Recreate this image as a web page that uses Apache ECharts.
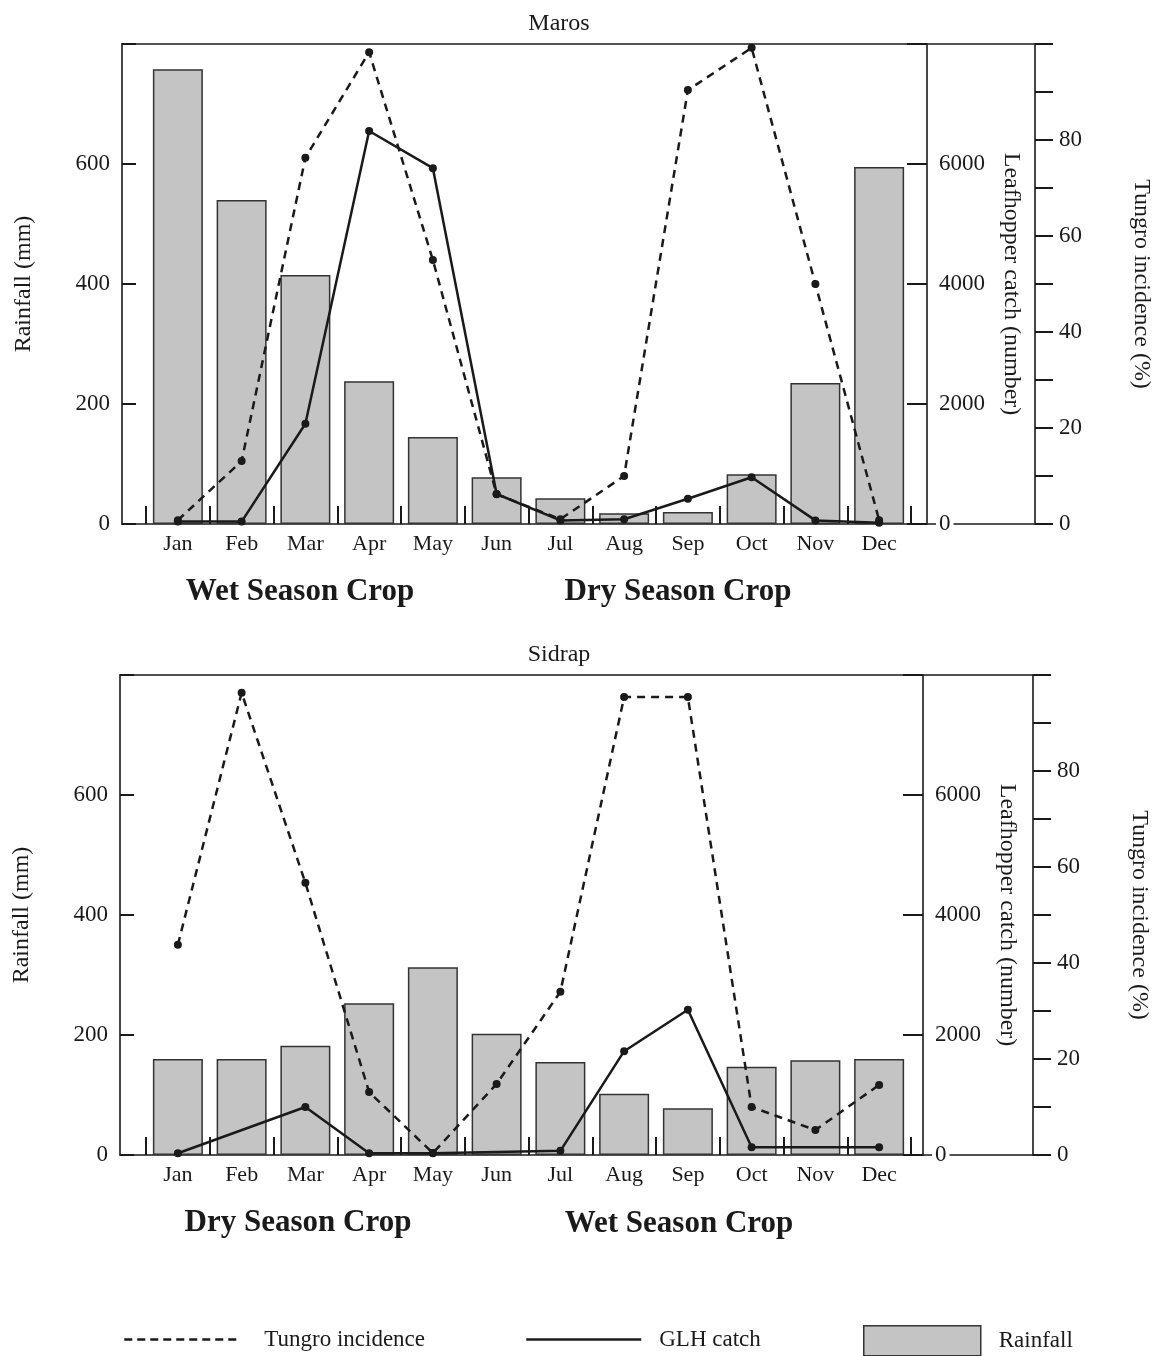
<!DOCTYPE html>
<html>
<head>
<meta charset="utf-8">
<script src="https://cdn.jsdelivr.net/npm/echarts@6/dist/echarts.min.js"></script>
<style>
  html, body { margin: 0; padding: 0; background: #fff; }
  #chart { width: 1167px; height: 1356px; }
</style>
</head>
<body>
<div id="chart"></div>
<script>
const months = ["Jan", "Feb", "Mar", "Apr", "May", "Jun", "Jul", "Aug", "Sep", "Oct", "Nov", "Dec"];

// Maros
const marosRain = [758, 540, 415, 238, 145, 78, 43, 18, 20, 83, 235, 595];
const marosGlh = [40, 40, 1670, 6550, 5930, 500, 60, 80, 420, 780, 60, 20];
const marosTungro = [0.8, 13.1, 76.3, 98.3, 55, 6.2, 1, 10, 90.4, 99.2, 50, 0.8];

// Sidrap
const sidrapRain = [160, 160, 182, 253, 313, 202, 155, 102, 78, 147, 158, 160];
const sidrapGlh = [30, null, 800, 30, 30, null, 70, 1730, 2420, 130, null, 130];
const sidrapTungro = [43.8, 96.3, 56.7, 13.1, 0.4, 14.8, 34, 95.4, 95.4, 10, 5.2, 14.6];

const rainTicks = [0, 200, 400, 600];
const leafTicks = [0, 2000, 4000, 6000];
const tungroTicks = [0, 20, 40, 60, 80];

const serif = '"Liberation Serif", "Times New Roman", serif';
const ink = "#1a1a1a";
const barGray = "#c4c4c4";

const chart = echarts.init(document.getElementById("chart"), null, { renderer: "canvas" });

// one panel = frame grid (axes, outline) + data grid (categories)
const panels = [
  { title: "Maros", frame: { left: 122, right: 1167 - 1035, top: 44, bottom: 1356 - 524 }, leafOffset: -108,
    rain: marosRain, glh: marosGlh, tungro: marosTungro,
    seasons: [["Wet Season Crop", 300, 592], ["Dry Season Crop", 678, 592]] },
  { title: "Sidrap", frame: { left: 120, right: 1167 - 1033, top: 675, bottom: 1356 - 1155 }, leafOffset: -110,
    rain: sidrapRain, glh: sidrapGlh, tungro: sidrapTungro,
    seasons: [["Dry Season Crop", 298, 1223], ["Wet Season Crop", 679, 1224]] },
];

const grid = [], xAxis = [], yAxis = [], series = [], title = [], graphic = [];

const tickLabel = { color: ink, fontFamily: serif, fontSize: 23 };
const axisName = { color: ink, fontFamily: serif, fontSize: 24 };
const frameLine = { show: true, onZero: false, lineStyle: { color: ink, width: 1.6 } };

panels.forEach((p, k) => {
  const fg = grid.length;
  grid.push(p.frame);
  const dg = grid.length;
  grid.push({ left: 146, right: 1167 - 911, top: p.frame.top, bottom: p.frame.bottom });

  xAxis.push({
    gridIndex: fg, type: "value", min: 0, max: 1, position: "bottom",
    axisLine: frameLine,
    axisTick: { show: false }, axisLabel: { show: false }, splitLine: { show: false },
  });
  xAxis.push({
    gridIndex: fg, type: "value", min: 0, max: 1, position: "top",
    axisLine: frameLine,
    axisTick: { show: false }, axisLabel: { show: false }, splitLine: { show: false },
  });
  const dx = xAxis.length;
  xAxis.push({
    gridIndex: dg, type: "category", data: months, boundaryGap: true,
    axisLine: { show: false, onZero: false },
    axisTick: { show: true, inside: true, length: 18, lineStyle: { color: ink, width: 2 } },
    axisLabel: Object.assign({ margin: 9 }, tickLabel, { fontSize: 22 }),
    splitLine: { show: false },
  });

  yAxis.push({
    gridIndex: fg, type: "value", position: "left", min: 0, max: 800, interval: 200,
    name: "Rainfall (mm)", nameLocation: "middle", nameGap: 86, nameTextStyle: axisName,
    axisLine: frameLine,
    axisTick: { show: true, inside: true, length: 14, lineStyle: { color: ink, width: 2 } },
    axisLabel: Object.assign({ margin: 12, formatter: v => rainTicks.includes(v) ? String(v) : "" }, tickLabel),
    splitLine: { show: false },
  });
  yAxis.push({
    gridIndex: fg, type: "value", position: "right", offset: p.leafOffset, z: 5,
    min: 0, max: 8000, interval: 2000,
    name: "Leafhopper catch (number)", nameLocation: "middle", nameRotate: -90, nameGap: 70,
    nameTextStyle: axisName,
    axisLine: frameLine,
    axisTick: { show: true, inside: true, length: 20, lineStyle: { color: ink, width: 2 } },
    axisLabel: Object.assign({ margin: 9, backgroundColor: "#fff", padding: [0, 3],
      formatter: v => leafTicks.includes(v) ? String(v) : "" }, tickLabel),
    splitLine: { show: false },
  });
  yAxis.push({
    gridIndex: fg, type: "value", position: "right", offset: 0,
    min: 0, max: 100, interval: 10,
    name: "Tungro incidence (%)", nameLocation: "middle", nameRotate: -90, nameGap: 94,
    nameTextStyle: axisName,
    axisLine: frameLine,
    axisTick: { show: true, inside: false, length: 18, lineStyle: { color: ink, width: 2 } },
    axisLabel: Object.assign({ margin: 24, formatter: v => tungroTicks.includes(v) ? String(v) : "" }, tickLabel),
    splitLine: { show: false },
  });

  const yr = yAxis.length;
  yAxis.push({ gridIndex: dg, type: "value", min: 0, max: 800, show: false, splitLine: { show: false } });
  yAxis.push({ gridIndex: dg, type: "value", min: 0, max: 8000, show: false, splitLine: { show: false } });
  yAxis.push({ gridIndex: dg, type: "value", min: 0, max: 100, show: false, splitLine: { show: false } });

  series.push({
    name: "Rainfall", type: "bar", xAxisIndex: dx, yAxisIndex: yr, data: p.rain, barWidth: 50,
    itemStyle: { color: barGray, borderColor: "#333", borderWidth: 1.5 }, z: 2,
  });
  series.push({
    name: "GLH catch", type: "line", xAxisIndex: dx, yAxisIndex: yr + 1, data: p.glh, connectNulls: true,
    symbol: "circle", symbolSize: 8, itemStyle: { color: ink },
    lineStyle: { color: ink, width: 2.5 }, z: 4,
  });
  series.push({
    name: "Tungro incidence", type: "line", xAxisIndex: dx, yAxisIndex: yr + 2, data: p.tungro,
    symbol: "circle", symbolSize: 8, itemStyle: { color: ink },
    lineStyle: { color: ink, width: 2.5, type: [8, 6] }, z: 5,
  });

  title.push({
    text: p.title, left: 554, top: p.frame.top - 37, textAlign: "center",
    textStyle: { color: ink, fontFamily: serif, fontSize: 24, fontWeight: "normal" },
  });
  p.seasons.forEach(s => graphic.push({
    type: "text", x: s[1], y: s[2],
    style: { text: s[0], fill: ink, font: "bold 31px " + serif, textAlign: "center", textVerticalAlign: "middle" },
  }));
});

const legendText = { color: ink, fontFamily: serif, fontSize: 23 };

const option = {
  animation: false,
  backgroundColor: "#fff",
  title: title,
  grid: grid,
  xAxis: xAxis,
  yAxis: yAxis,
  series: series,
  graphic: graphic,
  legend: [
    {
      data: ["Tungro incidence"], left: 118, top: 1323, itemWidth: 115, itemHeight: 24,
      itemStyle: { opacity: 0 }, lineStyle: { width: 2.5, type: [8, 5], color: ink },
      textStyle: Object.assign({ padding: [0, 0, 0, 20] }, legendText), selectedMode: false,
    },
    {
      data: ["GLH catch"], left: 520, top: 1323, itemWidth: 115, itemHeight: 24,
      itemStyle: { opacity: 0 }, lineStyle: { width: 2.5, color: ink },
      textStyle: Object.assign({ padding: [0, 0, 0, 13] }, legendText), selectedMode: false,
    },
    {
      data: ["Rainfall"], left: 858, top: 1320, itemWidth: 117, itemHeight: 30, icon: "rect",
      itemStyle: { color: barGray, borderColor: "#333", borderWidth: 1.5 },
      textStyle: Object.assign({ padding: [0, 0, 0, 13] }, legendText), selectedMode: false,
    },
  ],
};

chart.setOption(option);
</script>
</body>
</html>
